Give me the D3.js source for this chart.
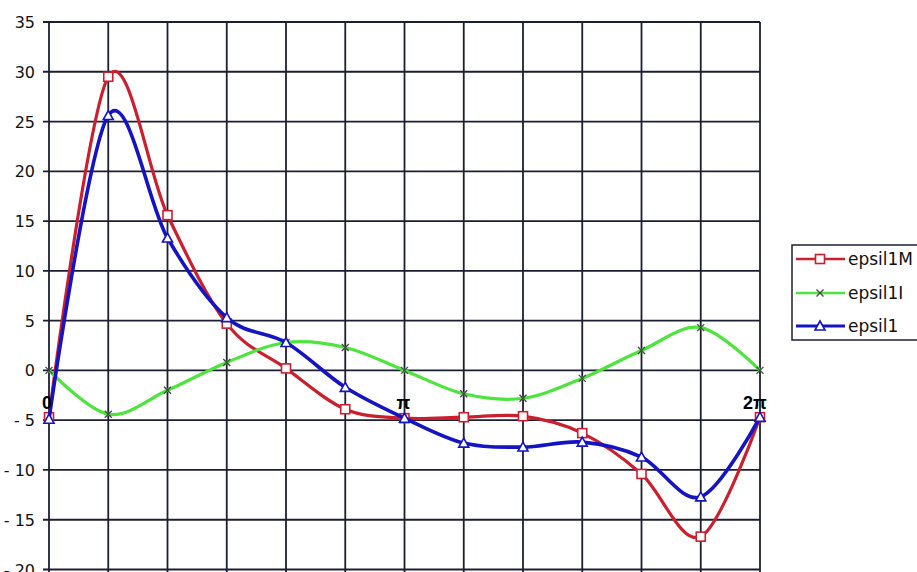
<!DOCTYPE html>
<html><head><meta charset="utf-8">
<script src="https://cdn.jsdelivr.net/npm/d3@7"></script>
<style>body{margin:0;background:#fff;overflow:hidden}svg{display:block}</style>
</head><body>
<script>
const xIndex = [0,1,2,3,4,5,6,7,8,9,10,11,12];
const epsil1M = [-4.7, 29.5, 15.6, 4.7, 0.2, -3.9, -4.8, -4.7, -4.6, -6.3, -10.4, -16.7, -4.7];
const epsil1I = [0, -4.4, -2.0, 0.8, 2.8, 2.3, 0, -2.35, -2.8, -0.8, 2.0, 4.3, 0];
const epsil1  = [-4.9, 25.6, 13.3, 5.3, 2.8, -1.7, -4.8, -7.3, -7.7, -7.2, -8.7, -12.7, -4.7];
const yTicks = [35,30,25,20,15,10,5,0,-5,-10,-15,-20];
const seriesNames = ["epsil1M","epsil1I","epsil1"];
const annotations = [{i:0,t:"0"},{i:6,t:"π"},{i:12,t:"2π"}];

const W=917,H=572;
const svg=d3.select("body").append("svg").attr("width",W).attr("height",H);
const x=d3.scaleLinear().domain([0,12]).range([49,760]);
const y=d3.scaleLinear().domain([-20,35]).range([569.5,22]);
const grid="#1c1f33";

svg.append("g").selectAll("line").data(yTicks).join("line")
  .attr("x1",43).attr("x2",760).attr("y1",d=>y(d)).attr("y2",d=>y(d))
  .attr("stroke",grid).attr("stroke-width",1.8);
svg.append("g").selectAll("line").data(xIndex).join("line")
  .attr("x1",d=>x(d)).attr("x2",d=>x(d)).attr("y1",y(35)).attr("y2",y(-20)+4)
  .attr("stroke",grid).attr("stroke-width",1.8);

svg.append("g").selectAll("text").data(yTicks).join("text")
  .attr("x",35).attr("y",d=>y(d)+6).attr("text-anchor","end")
  .attr("font-family","DejaVu Sans, sans-serif").attr("font-size",16).attr("fill","#111")
  .text(d=>d<0?"- "+Math.abs(d):d);

const line=d3.line().x((d,i)=>x(i)).y(d=>y(d)).curve(d3.curveCardinal.tension(0));

const specs=[
  {data:epsil1M,color:"#cc1f2e",w:3.2,marker:"square"},
  {data:epsil1I,color:"#4de53d",w:3.2,marker:"x"},
  {data:epsil1,color:"#1414c4",w:3.6,marker:"tri"}
];

function drawMarker(g,type,color,cx,cy){
  if(type==="square"){
    g.append("rect").attr("x",cx-4.5).attr("y",cy-4.5).attr("width",9).attr("height",9)
      .attr("fill","#fff").attr("stroke",color).attr("stroke-width",1.6);
  } else if(type==="tri"){
    g.append("path").attr("d",`M${cx},${cy-5}L${cx+5},${cy+4}L${cx-5},${cy+4}Z`)
      .attr("fill","#fff").attr("stroke",color).attr("stroke-width",1.6);
  } else {
    g.append("path").attr("d",`M${cx-3.5},${cy-3.5}L${cx+3.5},${cy+3.5}M${cx+3.5},${cy-3.5}L${cx-3.5},${cy+3.5}`)
      .attr("stroke","#444").attr("stroke-width",1.3).attr("fill","none");
  }
}

specs.forEach(s=>{
  const g=svg.append("g");
  g.append("path").datum(s.data).attr("d",line).attr("fill","none")
    .attr("stroke",s.color).attr("stroke-width",s.w).attr("stroke-linejoin","round");
  s.data.forEach((v,i)=>drawMarker(g,s.marker,s.color,x(i),y(v)));
});

svg.append("g").selectAll("text").data(annotations).join("text")
  .attr("x",d=>d.i===0?x(0)-7:d.i===6?x(6)-8:x(12)-17).attr("y",409)
  .attr("font-family","Liberation Sans, Arial, sans-serif").attr("font-weight","bold")
  .attr("font-size",18).attr("fill","#000").text(d=>d.t);

const lg=svg.append("g");
lg.append("rect").attr("x",792).attr("y",245).attr("width",140).attr("height",95)
  .attr("fill","#fff").attr("stroke",grid).attr("stroke-width",1.5);
const legY=[259,293,326];
specs.forEach((s,k)=>{
  lg.append("line").attr("x1",796).attr("x2",845).attr("y1",legY[k]).attr("y2",legY[k])
    .attr("stroke",s.color).attr("stroke-width",s.w-0.6);
  drawMarker(lg,s.marker,s.color,820,legY[k]);
  lg.append("text").attr("x",848).attr("y",legY[k]+6)
    .attr("font-family","DejaVu Sans, sans-serif").attr("font-size",17).attr("fill","#111")
    .text(seriesNames[k]);
});
</script>
</body></html>
